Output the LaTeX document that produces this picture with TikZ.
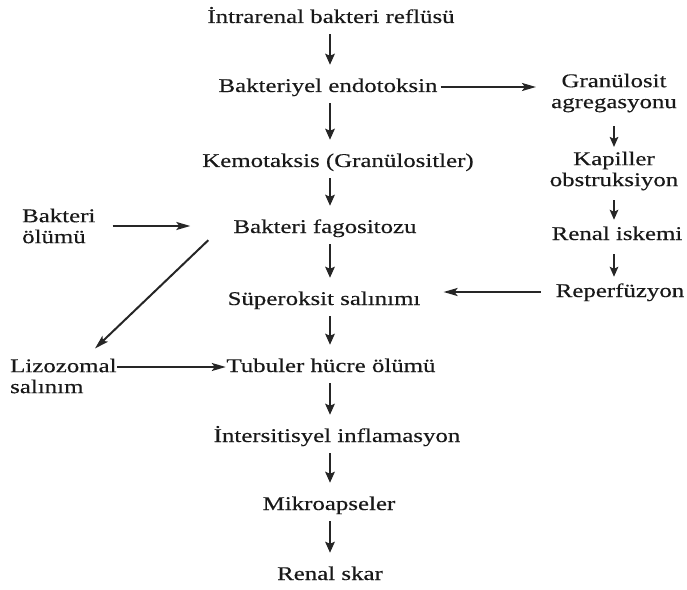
\documentclass[tikz,border=0pt]{standalone}
\usepackage{fontspec}
\setmainfont{Liberation Serif}[FakeStretch=1.28,FakeBold=0.35]
\usetikzlibrary{arrows.meta,calc}
\begin{document}
\begin{tikzpicture}[x=1bp,y=-1bp,
  txt/.style={font=\fontsize{19.5}{21}\selectfont, inner sep=0pt, text=black!90},
  lbl/.style={txt, text height=14bp, text depth=4bp, anchor=base},
  mlbl/.style={txt, align=center, anchor=north},
  llbl/.style={txt, align=left, anchor=north west},
  con/.style={line width=2bp, draw=black!85},
  varr/.style={con, line width=2.4bp, -{Stealth[length=11bp,width=9.5bp,inset=2bp]}, shorten <=7bp, shorten >=13bp},
  rarr/.style={con, -{Stealth[length=10bp,width=8.5bp,inset=2bp]}, shorten <=10bp, shorten >=6bp},
  harr/.style={con, -{Stealth[length=14bp,width=8bp,inset=3bp]}}
]
\useasboundingbox (0,0) rectangle (687,590);
\coordinate (ax) at (330,0);
\coordinate (rx) at (614,0);

% main column
\node[lbl] (intra) at (331,23) {İntrarenal bakteri reflüsü};
\node[lbl] (endo)  at (328,92) {Bakteriyel endotoksin};
\node[lbl] (kemo)  at (338,167) {Kemotaksis (Granülositler)};
\node[lbl] (bfag)  at (325,233) {Bakteri fagositozu};
\node[lbl] (super) at (324,305) {Süperoksit salınımı};
\node[lbl] (tub)   at (331,372) {Tubuler hücre ölümü};
\node[lbl] (inter) at (337,442) {İntersitisyel inflamasyon};
\node[lbl] (mikro) at (329,510) {Mikroapseler};
\node[lbl] (renal) at (330,580) {Renal skar};

% right column
\node[mlbl] (gran)   at (614,73.5) {Granülosit\\agregasyonu};
\node[mlbl] (kapil)  at (614,151.5) {Kapiller\\obstruksiyon};
\node[lbl]  (iskemi) at (617,240) {Renal iskemi};
\node[lbl]  (reper)  at (620,297) {Reperfüzyon};

% left column
\node[llbl] (bolumu) at (22,208.5) {Bakteri\\ölümü};
\node[llbl] (liz)    at (10,358.5) {Lizozomal\\salınım};

% main column arrows
\draw[varr] (intra.south -| ax) -- (endo.north -| ax);
\draw[varr] (endo.south -| ax)  -- (kemo.north -| ax);
\draw[varr] (kemo.south -| ax)  -- (bfag.north -| ax);
\draw[varr] (bfag.south -| ax)  -- (super.north -| ax);
\draw[varr] (super.south -| ax) -- (tub.north -| ax);
\draw[varr] (tub.south -| ax)   -- (inter.north -| ax);
\draw[varr] (inter.south -| ax) -- (mikro.north -| ax);
\draw[varr] (mikro.south -| ax) -- (renal.north -| ax);

% right column arrows
\draw[rarr, shorten <=14bp, shorten >=4.5bp] (gran.south -| rx) -- (kapil.north -| rx);
\draw[rarr] (kapil.south -| rx) -- (iskemi.north -| rx);
\draw[rarr] (iskemi.south -| rx) -- (reper.north -| rx);

% horizontal arrows
\draw[harr, shorten <=3bp, shorten >=15bp] (endo.east) -- (endo.east -| gran.west);
\draw[harr, shorten <=15bp, shorten >=23bp] (reper.west) -- (reper.west -| super.east);
\draw[harr, shorten <=17bp, shorten >=43bp] (bolumu.east) -- (bolumu.east -| bfag.west);
\draw[harr, shorten <=0.5bp, shorten >=0.5bp] (tub.west -| liz.east) -- (tub.west);

% diagonal
\draw[harr] ($(bfag.south west)+(-25,3)$) -- ($(liz.north west)+(85,-10)$);
\end{tikzpicture}
\end{document}
